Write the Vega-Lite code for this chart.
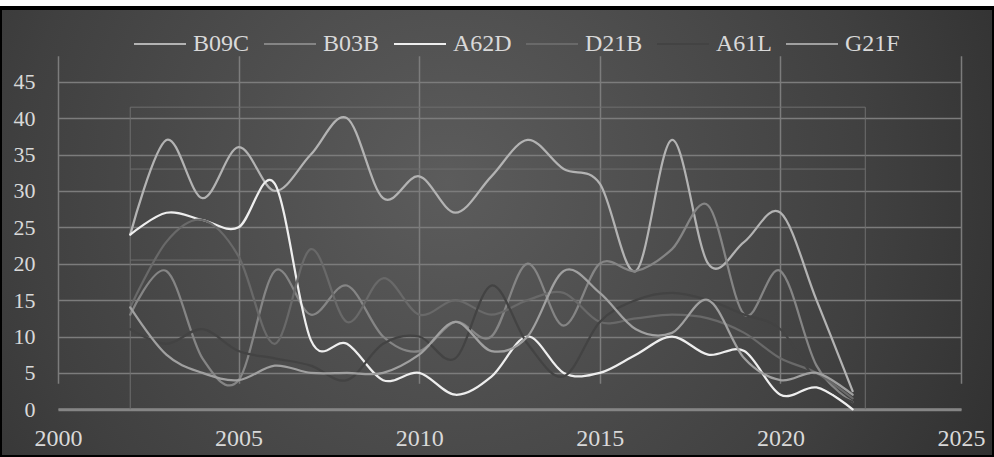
{
  "$schema": "https://vega.github.io/schema/vega-lite/v6.json",
  "width": 994,
  "height": 449,
  "autosize": {"type": "none"},
  "padding": {"left": 0, "top": 8, "right": 0, "bottom": 0},
  "background": "#ffffff",
  "config": {
    "font": "Liberation Serif, Times New Roman, DejaVu Serif, serif",
    "view": {
      "fill": {
        "gradient": "radial",
        "x1": 0.45, "y1": 0.45, "r1": 0,
        "x2": 0.45, "y2": 0.45, "r2": 0.78,
        "stops": [
          {"offset": 0, "color": "#5c5c5c"},
          {"offset": 0.55, "color": "#404040"},
          {"offset": 1, "color": "#232323"}
        ]
      },
      "stroke": "#000000",
      "strokeWidth": 4
    }
  },
  "datasets": {
    "frame": [
      {"x0": 2002, "x1": 2002, "y0": 0, "y1": 41.5},
      {"x0": 2022.35, "x1": 2022.35, "y0": 0, "y1": 41.5},
      {"x0": 2002, "x1": 2022.35, "y0": 41.5, "y1": 41.5},
      {"x0": 2002, "x1": 2022.35, "y0": 33, "y1": 33},
      {"x0": 2002, "x1": 2005, "y0": 20.5, "y1": 20.5}
    ],
    "series": [
      {"year": 2002, "series": "B09C", "value": 24},
      {"year": 2003, "series": "B09C", "value": 37},
      {"year": 2004, "series": "B09C", "value": 29},
      {"year": 2005, "series": "B09C", "value": 36},
      {"year": 2006, "series": "B09C", "value": 30},
      {"year": 2007, "series": "B09C", "value": 35},
      {"year": 2008, "series": "B09C", "value": 40},
      {"year": 2009, "series": "B09C", "value": 29},
      {"year": 2010, "series": "B09C", "value": 32},
      {"year": 2011, "series": "B09C", "value": 27},
      {"year": 2012, "series": "B09C", "value": 32},
      {"year": 2013, "series": "B09C", "value": 37},
      {"year": 2014, "series": "B09C", "value": 33},
      {"year": 2015, "series": "B09C", "value": 31},
      {"year": 2016, "series": "B09C", "value": 19},
      {"year": 2017, "series": "B09C", "value": 37},
      {"year": 2018, "series": "B09C", "value": 20},
      {"year": 2019, "series": "B09C", "value": 23},
      {"year": 2020, "series": "B09C", "value": 27},
      {"year": 2021, "series": "B09C", "value": 15},
      {"year": 2022, "series": "B09C", "value": 2.5},

      {"year": 2002, "series": "B03B", "value": 13},
      {"year": 2003, "series": "B03B", "value": 19},
      {"year": 2004, "series": "B03B", "value": 7},
      {"year": 2005, "series": "B03B", "value": 4},
      {"year": 2006, "series": "B03B", "value": 19},
      {"year": 2007, "series": "B03B", "value": 13},
      {"year": 2008, "series": "B03B", "value": 17},
      {"year": 2009, "series": "B03B", "value": 10},
      {"year": 2010, "series": "B03B", "value": 8},
      {"year": 2011, "series": "B03B", "value": 12},
      {"year": 2012, "series": "B03B", "value": 10},
      {"year": 2013, "series": "B03B", "value": 20},
      {"year": 2014, "series": "B03B", "value": 11.5},
      {"year": 2015, "series": "B03B", "value": 20},
      {"year": 2016, "series": "B03B", "value": 19},
      {"year": 2017, "series": "B03B", "value": 22},
      {"year": 2018, "series": "B03B", "value": 28},
      {"year": 2019, "series": "B03B", "value": 13},
      {"year": 2020, "series": "B03B", "value": 19},
      {"year": 2021, "series": "B03B", "value": 6},
      {"year": 2022, "series": "B03B", "value": 1},

      {"year": 2002, "series": "A62D", "value": 24},
      {"year": 2003, "series": "A62D", "value": 27},
      {"year": 2004, "series": "A62D", "value": 26},
      {"year": 2005, "series": "A62D", "value": 25},
      {"year": 2006, "series": "A62D", "value": 31},
      {"year": 2007, "series": "A62D", "value": 9.5},
      {"year": 2008, "series": "A62D", "value": 9},
      {"year": 2009, "series": "A62D", "value": 4},
      {"year": 2010, "series": "A62D", "value": 5},
      {"year": 2011, "series": "A62D", "value": 2},
      {"year": 2012, "series": "A62D", "value": 4.5},
      {"year": 2013, "series": "A62D", "value": 10},
      {"year": 2014, "series": "A62D", "value": 5},
      {"year": 2015, "series": "A62D", "value": 5},
      {"year": 2016, "series": "A62D", "value": 7.5},
      {"year": 2017, "series": "A62D", "value": 10},
      {"year": 2018, "series": "A62D", "value": 7.5},
      {"year": 2019, "series": "A62D", "value": 8},
      {"year": 2020, "series": "A62D", "value": 2},
      {"year": 2021, "series": "A62D", "value": 3},
      {"year": 2022, "series": "A62D", "value": 0},

      {"year": 2002, "series": "D21B", "value": 14},
      {"year": 2003, "series": "D21B", "value": 23},
      {"year": 2004, "series": "D21B", "value": 26},
      {"year": 2005, "series": "D21B", "value": 21},
      {"year": 2006, "series": "D21B", "value": 9},
      {"year": 2007, "series": "D21B", "value": 22},
      {"year": 2008, "series": "D21B", "value": 12},
      {"year": 2009, "series": "D21B", "value": 18},
      {"year": 2010, "series": "D21B", "value": 13},
      {"year": 2011, "series": "D21B", "value": 15},
      {"year": 2012, "series": "D21B", "value": 13},
      {"year": 2013, "series": "D21B", "value": 15},
      {"year": 2014, "series": "D21B", "value": 16},
      {"year": 2015, "series": "D21B", "value": 12},
      {"year": 2016, "series": "D21B", "value": 12.5},
      {"year": 2017, "series": "D21B", "value": 13},
      {"year": 2018, "series": "D21B", "value": 12.5},
      {"year": 2019, "series": "D21B", "value": 10.5},
      {"year": 2020, "series": "D21B", "value": 7},
      {"year": 2021, "series": "D21B", "value": 5},
      {"year": 2022, "series": "D21B", "value": 1.5},

      {"year": 2002, "series": "A61L", "value": 11},
      {"year": 2003, "series": "A61L", "value": 9},
      {"year": 2004, "series": "A61L", "value": 11},
      {"year": 2005, "series": "A61L", "value": 8},
      {"year": 2006, "series": "A61L", "value": 7},
      {"year": 2007, "series": "A61L", "value": 6},
      {"year": 2008, "series": "A61L", "value": 4},
      {"year": 2009, "series": "A61L", "value": 9},
      {"year": 2010, "series": "A61L", "value": 10},
      {"year": 2011, "series": "A61L", "value": 7},
      {"year": 2012, "series": "A61L", "value": 17},
      {"year": 2013, "series": "A61L", "value": 9},
      {"year": 2014, "series": "A61L", "value": 4.5},
      {"year": 2015, "series": "A61L", "value": 12},
      {"year": 2016, "series": "A61L", "value": 15},
      {"year": 2017, "series": "A61L", "value": 16},
      {"year": 2018, "series": "A61L", "value": 15},
      {"year": 2019, "series": "A61L", "value": 13},
      {"year": 2020, "series": "A61L", "value": 11},
      {"year": 2021, "series": "A61L", "value": 4},
      {"year": 2022, "series": "A61L", "value": 1},

      {"year": 2002, "series": "G21F", "value": 14},
      {"year": 2003, "series": "G21F", "value": 7.5},
      {"year": 2004, "series": "G21F", "value": 5},
      {"year": 2005, "series": "G21F", "value": 4},
      {"year": 2006, "series": "G21F", "value": 6},
      {"year": 2007, "series": "G21F", "value": 5},
      {"year": 2008, "series": "G21F", "value": 5},
      {"year": 2009, "series": "G21F", "value": 5},
      {"year": 2010, "series": "G21F", "value": 7.5},
      {"year": 2011, "series": "G21F", "value": 12},
      {"year": 2012, "series": "G21F", "value": 8},
      {"year": 2013, "series": "G21F", "value": 10},
      {"year": 2014, "series": "G21F", "value": 19},
      {"year": 2015, "series": "G21F", "value": 16},
      {"year": 2016, "series": "G21F", "value": 11},
      {"year": 2017, "series": "G21F", "value": 10.5},
      {"year": 2018, "series": "G21F", "value": 15},
      {"year": 2019, "series": "G21F", "value": 7},
      {"year": 2020, "series": "G21F", "value": 4},
      {"year": 2021, "series": "G21F", "value": 5},
      {"year": 2022, "series": "G21F", "value": 2}
    ]
  },
  "layer": [
    {
      "data": {"name": "frame"},
      "mark": {"type": "rule", "color": "#6e6e6e", "strokeWidth": 1},
      "encoding": {
        "x": {"field": "x0", "type": "quantitative"},
        "x2": {"field": "x1"},
        "y": {"field": "y0", "type": "quantitative"},
        "y2": {"field": "y1"}
      }
    },
    {
      "data": {"name": "series"},
      "mark": {"type": "line", "interpolate": "cardinal", "strokeWidth": 2.25, "strokeCap": "round"},
      "encoding": {
        "x": {
          "field": "year",
          "type": "quantitative",
          "scale": {"domain": [2000, 2025], "range": [58, 961], "nice": false, "zero": false},
          "axis": {
            "title": null,
            "offset": -47.7,
            "values": [2000, 2005, 2010, 2015, 2020, 2025],
            "format": "d",
            "grid": true,
            "gridColor": "#7c7c7c",
            "gridWidth": 1.5,
            "domain": true,
            "domainColor": "#858585",
            "domainWidth": 3,
            "ticks": false,
            "labelPadding": 17,
            "labelFontSize": 24,
            "labelColor": "#d9d9d9",
            "labelFont": "Liberation Serif, Times New Roman, DejaVu Serif, serif",
            "labelFlush": false,
            "labelOverlap": false
          }
        },
        "y": {
          "field": "value",
          "type": "quantitative",
          "scale": {"domain": [0, 45], "range": [401.3, 73.7], "nice": false, "zero": true},
          "axis": {
            "title": null,
            "offset": -58,
            "values": [0, 5, 10, 15, 20, 25, 30, 35, 40, 45],
            "grid": true,
            "gridColor": "#7c7c7c",
            "gridWidth": 1.5,
            "domain": false,
            "ticks": false,
            "labelPadding": 23,
            "labelFontSize": 22,
            "labelColor": "#d9d9d9",
            "labelFont": "Liberation Serif, Times New Roman, DejaVu Serif, serif",
            "labelFlush": false,
            "labelOverlap": false
          }
        },
        "color": {
          "field": "series",
          "type": "nominal",
          "sort": ["B09C", "B03B", "A62D", "D21B", "A61L", "G21F"],
          "scale": {
            "domain": ["B09C", "B03B", "A62D", "D21B", "A61L", "G21F"],
            "range": ["#b3b3b3", "#858585", "#eeeeee", "#696969", "#434343", "#a0a0a0"]
          },
          "legend": {
            "orient": "none",
            "legendX": 133,
            "legendY": 9,
            "direction": "horizontal",
            "title": null,
            "padding": 0,
            "symbolType": "stroke",
            "symbolSize": 2704,
            "symbolStrokeWidth": 2,
            "labelFontSize": 24,
            "labelColor": "#d9d9d9",
            "labelFont": "Liberation Serif, Times New Roman, DejaVu Serif, serif",
            "labelOffset": 6,
            "columnPadding": 10
          }
        }
      }
    }
  ]
}
